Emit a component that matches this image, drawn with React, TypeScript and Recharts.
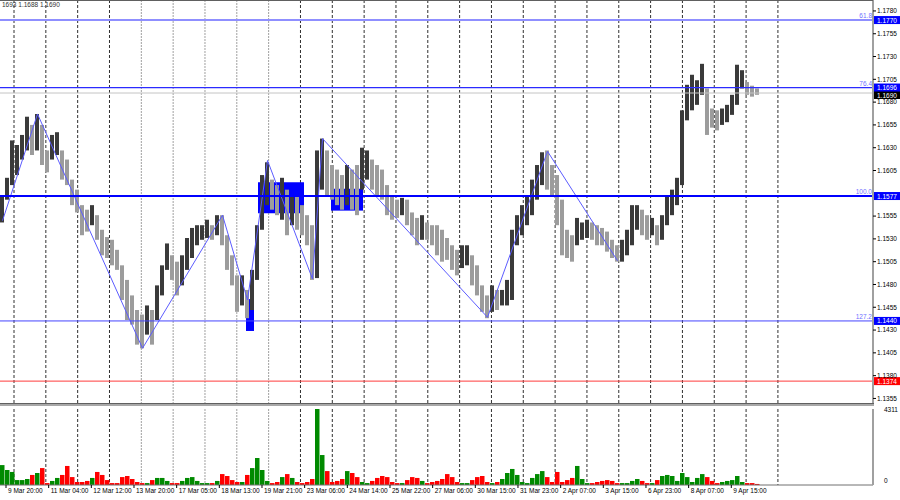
import React from 'react';
import {
  ComposedChart,
  Bar,
  Line,
  XAxis,
  YAxis,
  CartesianGrid,
  ReferenceLine,
  ReferenceArea,
  Cell,
} from 'recharts';

// H1 candles grouped into slots (high / low)
const highs = [
  1.1578, 1.1597, 1.1638, 1.1633, 1.1644, 1.1664, 1.1655, 1.1667, 1.1655, 1.1627,
  1.1644, 1.1647, 1.1627, 1.1617, 1.1595, 1.1584, 1.1567, 1.1562, 1.1567, 1.1556,
  1.1540, 1.1532, 1.1529, 1.1518, 1.1501, 1.1485, 1.1468, 1.1452, 1.1447, 1.1457,
  1.1452, 1.1479, 1.1501, 1.1525, 1.1512, 1.1505, 1.1512, 1.1531, 1.1542, 1.1545,
  1.1545, 1.1551, 1.1545, 1.1556, 1.1556, 1.1534, 1.1512, 1.1490, 1.1490, 1.1474,
  1.1496, 1.1545, 1.1600, 1.1614, 1.1595, 1.1589, 1.1597, 1.1584, 1.1578, 1.1578,
  1.1567, 1.1556, 1.1545, 1.1627, 1.1640, 1.1627, 1.1611, 1.1606, 1.1600, 1.1611,
  1.1606, 1.1611, 1.1630, 1.1627, 1.1617, 1.1611, 1.1606, 1.1589, 1.1578, 1.1573,
  1.1575, 1.1573, 1.1559, 1.1553, 1.1556, 1.1548, 1.1545, 1.1545, 1.1540, 1.1531,
  1.1523, 1.1518, 1.1523, 1.1523, 1.1512, 1.1501, 1.1479, 1.1468, 1.1479, 1.1474,
  1.1474, 1.1485, 1.1540, 1.1556, 1.1567, 1.1578, 1.1595, 1.1611, 1.1625, 1.1627,
  1.1611, 1.1600, 1.1573, 1.1540, 1.1534, 1.1553, 1.1548, 1.1551, 1.1548, 1.1545,
  1.1542, 1.1538, 1.1529, 1.1523, 1.1529, 1.1540, 1.1567, 1.1567, 1.1562, 1.1556,
  1.1553, 1.1545, 1.1556, 1.1578, 1.1584, 1.1597, 1.1671, 1.1699, 1.1710, 1.1704,
  1.1722, 1.1695, 1.1673, 1.1671, 1.1673, 1.1677, 1.1688, 1.1721, 1.1715, 1.1702,
  1.1698, 1.1695,
];

const lows = [
  1.1548, 1.1573, 1.1589, 1.1600, 1.1617, 1.1627, 1.1622, 1.1627, 1.1611, 1.1603,
  1.1617, 1.1622, 1.1595, 1.1589, 1.1567, 1.1559, 1.1534, 1.1538, 1.1545, 1.1529,
  1.1512, 1.1509, 1.1501, 1.1496, 1.1463, 1.1441, 1.1436, 1.1414, 1.1410, 1.1425,
  1.1414, 1.1441, 1.1468, 1.1496, 1.1485, 1.1468, 1.1479, 1.1496, 1.1509, 1.1523,
  1.1529, 1.1531, 1.1529, 1.1534, 1.1523, 1.1496, 1.1479, 1.1450, 1.1457, 1.1443,
  1.1452, 1.1485, 1.1540, 1.1567, 1.1562, 1.1556, 1.1551, 1.1534, 1.1545, 1.1540,
  1.1534, 1.1523, 1.1485, 1.1487, 1.1584, 1.1578, 1.1573, 1.1567, 1.1562, 1.1567,
  1.1562, 1.1556, 1.1584, 1.1595, 1.1584, 1.1578, 1.1573, 1.1556, 1.1551, 1.1553,
  1.1556, 1.1545, 1.1534, 1.1523, 1.1529, 1.1529, 1.1523, 1.1512, 1.1505, 1.1507,
  1.1496, 1.1490, 1.1498, 1.1501, 1.1479, 1.1468, 1.1450, 1.1443, 1.1450, 1.1452,
  1.1457, 1.1457, 1.1463, 1.1523, 1.1534, 1.1545, 1.1556, 1.1573, 1.1589, 1.1584,
  1.1578, 1.1545, 1.1512, 1.1509, 1.1505, 1.1523, 1.1529, 1.1531, 1.1529, 1.1523,
  1.1523, 1.1516, 1.1509, 1.1505, 1.1505, 1.1512, 1.1523, 1.1540, 1.1534, 1.1529,
  1.1534, 1.1523, 1.1529, 1.1545, 1.1556, 1.1567, 1.1589, 1.1660, 1.1671, 1.1677,
  1.1688, 1.1644, 1.1652, 1.1649, 1.1655, 1.1658, 1.1666, 1.1677, 1.1695, 1.1688,
  1.1686, 1.1688,
];

const volumes = [
  1130, 850, 740, 280, 280, 340, 570, 680, 960, 110,
  230, 400, 570, 1080, 450, 170, 170, 230, 400, 740,
  570, 280, 110, 110, 450, 510, 340, 170, 110, 110,
  280, 400, 400, 230, 110, 110, 230, 400, 450, 230,
  110, 110, 110, 230, 620, 510, 280, 170, 170, 570,
  960, 1530, 850, 230, 110, 170, 450, 620, 400, 170,
  110, 170, 340, 4311, 1700, 790, 170, 230, 340, 790,
  680, 450, 170, 110, 230, 400, 510, 450, 170, 110,
  110, 280, 450, 400, 230, 110, 170, 230, 340, 620,
  450, 170, 110, 110, 280, 450, 510, 170, 110, 170,
  340, 680, 910, 570, 170, 110, 400, 620, 790, 450,
  170, 740, 170, 280, 400, 1080, 340, 110, 110, 170,
  230, 280, 230, 110, 110, 110, 230, 340, 230, 110,
  110, 280, 510, 570, 510, 230, 680, 450, 170, 400,
  620, 450, 230, 110, 170, 230, 280, 510, 170, 110,
  110, 60,
];

// zigzag turning points: slot -> price
const zigzag: Record<number, number> = {
  0: 1.155, 7: 1.1667, 28: 1.141, 44: 1.1556, 49: 1.1463, 53: 1.1616,
  62: 1.1486, 64: 1.164, 97: 1.1444, 109: 1.1626, 123: 1.1506,
};

const fibPrices = [1.177, 1.1696, 1.1577, 1.144];
const fibLabels = ['61.8', '76.4', '100.0', '127.2'];
const stopPrice = 1.1374;
const lastPrice = 1.169;
const headerText = '1693 1.1688 1.1690';

// blue zones: [slot from, slot to], [price low, price high]
const zoneSlots = [[49.2, 50.8], [51.6, 60.8], [66.2, 72.6]];
const zonePrices = [[1.1429, 1.1464], [1.1558, 1.1592], [1.1561, 1.1585]];

const priceTicks = [
  1.1355, 1.138, 1.1405, 1.143, 1.1455, 1.148, 1.1505, 1.153, 1.1555,
  1.1605, 1.163, 1.1655, 1.168, 1.1705, 1.173, 1.1755, 1.178,
];

const timeLabels = [
  '9 Mar 20:00', '11 Mar 04:00', '12 Mar 12:00', '13 Mar 20:00', '17 Mar 05:00',
  '18 Mar 13:00', '19 Mar 21:00', '23 Mar 06:00', '24 Mar 14:00', '25 Mar 22:00',
  '27 Mar 06:00', '30 Mar 15:00', '31 Mar 23:00', '2 Apr 07:00', '3 Apr 15:00',
  '6 Apr 23:00', '8 Apr 07:00', '9 Apr 15:00',
];

const FONT = '"Liberation Sans", Arial, sans-serif';
const SLOT_PX = 5;
const X_MAX = 873 / SLOT_PX;

const data = highs.map((h, i) => {
  const mid = (h + lows[i]) / 2;
  const prevMid = i > 0 ? (highs[i - 1] + lows[i - 1]) / 2 : mid;
  return {
    x: i + 0.5,
    hl: [lows[i], h],
    vol: volumes[i],
    up: mid >= prevMid,
    zz: zigzag[i] ?? null,
  };
});

// label every 32 H1 bars, day separator every 24 bars
const labelPos = timeLabels.map((_, k) => 1.2 + k * 8.533);
const gridPx = Array.from({ length: 25 }, (_, k) => 14 + k * 31.83);
const grayGridPx = gridPx.filter((_, k) => k >= 4 && k <= 8);
const darkGridPx = gridPx.filter((_, k) => k < 4 || k > 8);

const fibStyles = [
  { stroke: '#8f8fff', width: 2 },
  { stroke: '#2b2bff', width: 1.3 },
  { stroke: '#0000ff', width: 2 },
  { stroke: '#4545ff', width: 1 },
];

function PriceTag({ viewBox, text, bg, fib, shift = 0 }: any) {
  if (!viewBox) return null;
  const right = viewBox.x + viewBox.width;
  const y = viewBox.y + shift;
  return (
    <g>
      {fib ? (
        <text x={right - 1} y={viewBox.y - 2} textAnchor="end" fontSize={6.5} fill="#7070ff" fontFamily={FONT}>
          {fib}
        </text>
      ) : null}
      <rect x={right + 1} y={y - 4} width={27} height={8} fill={bg} />
      <text x={right + 4} y={y + 2.5} fontSize={6.5} fill="#fff" fontFamily={FONT}>
        {text}
      </text>
    </g>
  );
}

function TimeTick({ x, y, index }: any) {
  return (
    <g>
      <line x1={x} y1={y} x2={x} y2={y + 3} stroke="#000" />
      <text x={x + 2} y={y + 8} fontSize={6.5} fill="#000" fontFamily={FONT}>
        {timeLabels[index] ?? ''}
      </text>
    </g>
  );
}

function VolTick({ x, y, payload }: any) {
  return (
    <text x={x + 3} y={payload.value === 0 ? y - 2 : y + 3} fontSize={6.5} fill="#000" fontFamily={FONT}>
      {payload.value}
    </text>
  );
}

export default function App() {
  return (
    <div style={{ position: 'relative', width: 900, height: 500, background: '#fff', overflow: 'hidden', fontFamily: FONT }}>
      <style>{'body{margin:0}'}</style>

      <ComposedChart width={900} height={403} data={data} margin={{ top: 0, right: 0, bottom: 0, left: 0 }}>
        <CartesianGrid horizontal={false} verticalPoints={darkGridPx} stroke="#303030" strokeDasharray="3 2" />
        <CartesianGrid horizontal={false} verticalPoints={grayGridPx} stroke="#a0a0a0" strokeDasharray="2 1" />
        <XAxis dataKey="x" type="number" domain={[0, X_MAX]} allowDataOverflow hide />
        <YAxis
          orientation="right"
          width={27}
          domain={[1.135, 1.1792]}
          allowDataOverflow
          ticks={priceTicks}
          interval={0}
          tickFormatter={(v: number) => v.toFixed(4)}
          tick={{ fontSize: 6.5, fill: '#000', fontFamily: FONT }}
          tickSize={3}
          tickMargin={1}
          axisLine={{ stroke: '#a0a0a0', strokeWidth: 2 }}
          tickLine={{ stroke: '#000' }}
        />
        {zoneSlots.map((s, i) => (
          <ReferenceArea key={'z' + i} x1={s[0]} x2={s[1]} y1={zonePrices[i][0]} y2={zonePrices[i][1]} fill="#0000ff" fillOpacity={1} stroke="none" />
        ))}
        <Bar dataKey="hl" barSize={4} isAnimationActive={false}>
          {data.map((d, i) => (
            <Cell key={i} fill={d.up ? '#3a3a3a' : '#9c9c9c'} />
          ))}
        </Bar>
        <Line dataKey="zz" type="linear" connectNulls dot={false} stroke="#5c5cff" strokeWidth={1} isAnimationActive={false} />
        <ReferenceLine
          y={lastPrice}
          stroke="#c4c4c4"
          strokeWidth={1}
          label={(p: any) => <PriceTag viewBox={p.viewBox} text={lastPrice.toFixed(4)} bg="#000" shift={2} />}
        />
        {fibPrices.map((p, i) => (
          <ReferenceLine
            key={'f' + i}
            y={p}
            stroke={fibStyles[i].stroke}
            strokeWidth={fibStyles[i].width}
            label={(lp: any) => <PriceTag viewBox={lp.viewBox} text={p.toFixed(4)} bg="#0000ff" fib={fibLabels[i]} />}
          />
        ))}
        <ReferenceLine
          y={stopPrice}
          stroke="#ff3b3b"
          strokeWidth={1}
          label={(p: any) => <PriceTag viewBox={p.viewBox} text={stopPrice.toFixed(4)} bg="#ff0000" />}
        />
      </ComposedChart>

      <div style={{ position: 'absolute', left: 0, top: 0, width: 873, height: 1, background: '#606060' }} />
      <div style={{ position: 'absolute', left: 2, top: 1, fontSize: 6.5, lineHeight: '8px', color: '#333' }}>{headerText}</div>
      <div style={{ position: 'absolute', left: 0, top: 403, width: 874, height: 3, background: '#a8a8a8', borderTop: '1px solid #606060', boxSizing: 'border-box' }} />

      <div style={{ position: 'absolute', left: 0, top: 406 }}>
        <ComposedChart width={900} height={94} data={data} margin={{ top: 3, right: 0, bottom: 0, left: 0 }}>
          <CartesianGrid horizontal={false} verticalPoints={darkGridPx} stroke="#303030" strokeDasharray="3 2" />
          <CartesianGrid horizontal={false} verticalPoints={grayGridPx} stroke="#a0a0a0" strokeDasharray="2 1" />
          <XAxis
            dataKey="x"
            type="number"
            domain={[0, X_MAX]}
            allowDataOverflow
            ticks={labelPos}
            interval={0}
            height={15}
            tick={<TimeTick />}
            tickSize={0}
            tickMargin={0}
            tickLine={false}
            axisLine={{ stroke: '#707070' }}
          />
          <YAxis
            orientation="right"
            width={27}
            domain={[0, 4311]}
            ticks={[0, 4311]}
            interval={0}
            tick={<VolTick />}
            tickLine={false}
            axisLine={{ stroke: '#a0a0a0', strokeWidth: 2 }}
          />
          <Bar dataKey="vol" barSize={5} isAnimationActive={false}>
            {data.map((d, i) => (
              <Cell key={i} fill={d.up ? '#008a00' : '#ff0000'} />
            ))}
          </Bar>
        </ComposedChart>
      </div>
    </div>
  );
}
